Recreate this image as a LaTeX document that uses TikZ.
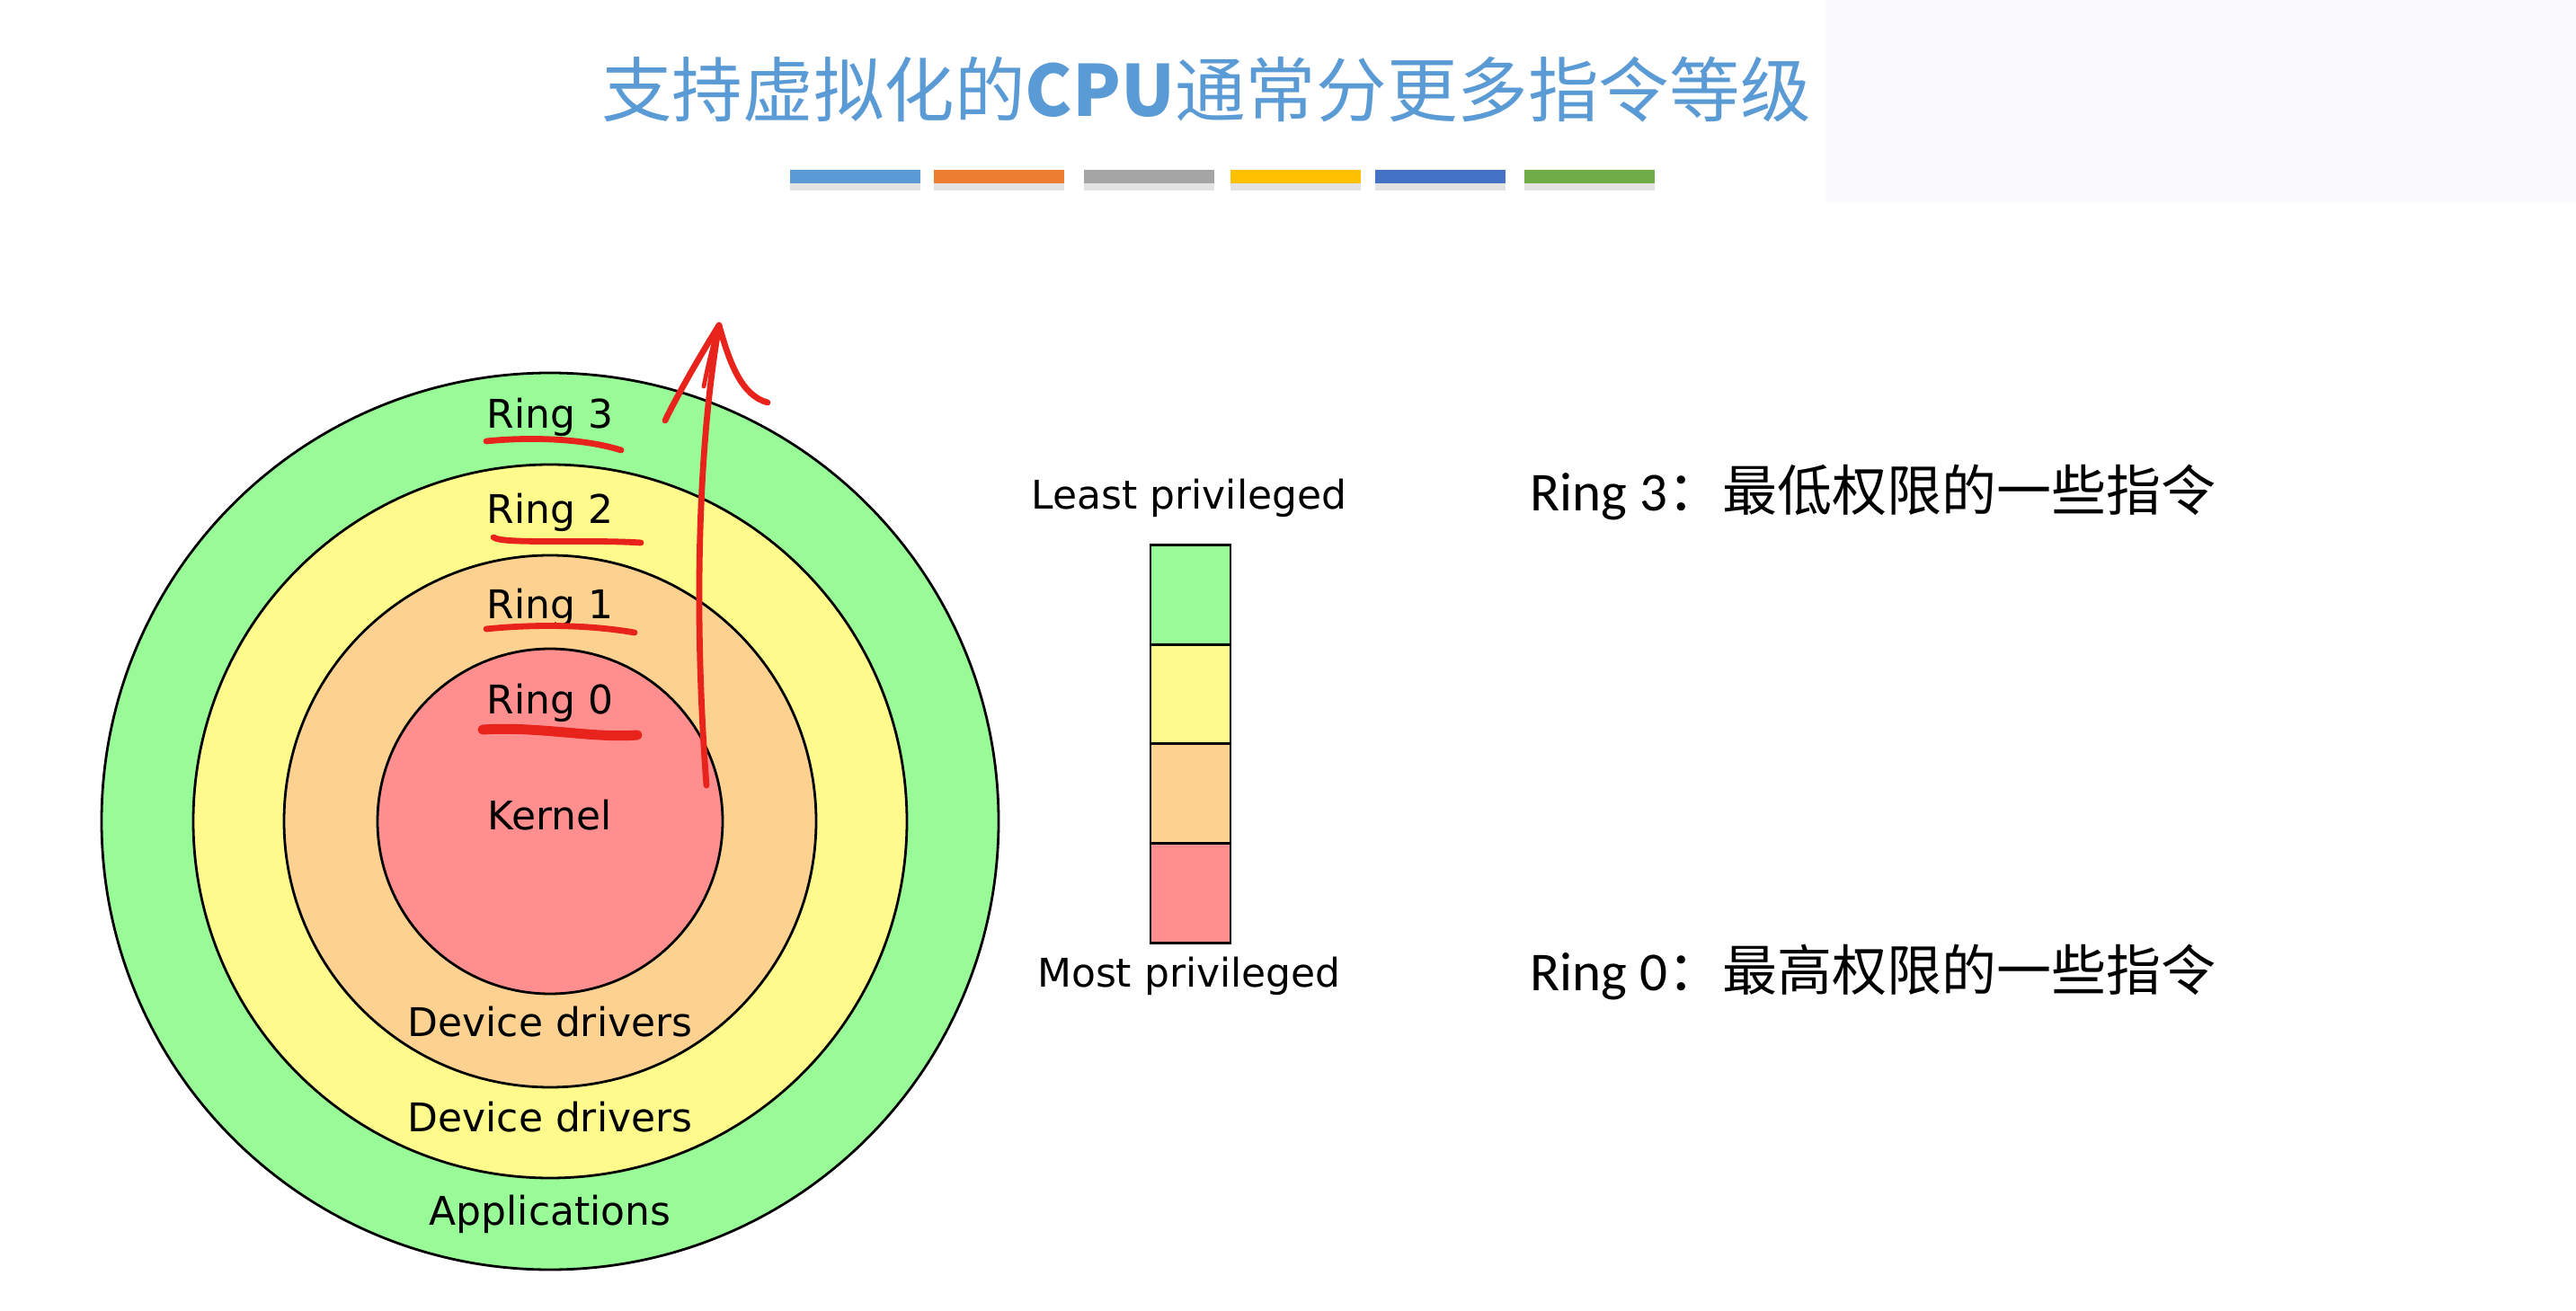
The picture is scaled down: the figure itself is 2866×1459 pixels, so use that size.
\documentclass[tikz,border=0pt]{standalone}
\usepackage{fontspec}
\setmainfont{DejaVu Sans}
\newfontfamily\cjk{Noto Sans CJK SC}
\newfontfamily\calib{Carlito}
\definecolor{rgreen}{HTML}{98FB98}
\definecolor{ryellow}{HTML}{FFFA8C}
\definecolor{rorange}{HTML}{FDD291}
\definecolor{rred}{HTML}{FF8E8E}
\definecolor{titleblue}{HTML}{5B9BD5}
\definecolor{barA}{HTML}{5B9BD5}
\definecolor{barB}{HTML}{ED7D31}
\definecolor{barC}{HTML}{A5A5A5}
\definecolor{barD}{HTML}{FFC000}
\definecolor{barE}{HTML}{4472C4}
\definecolor{barF}{HTML}{70AD47}
\definecolor{pen}{HTML}{E8231B}
\definecolor{wm}{HTML}{FBFBFD}
\tikzset{
  ring/.style={circle, draw=black, line width=1.4pt, inner sep=0pt},
  lab/.style={font=\fontsize{22}{26}\selectfont, text=black, inner sep=0pt},
  leglab/.style={font=\fontsize{22}{26}\selectfont, text=black, inner sep=0pt},
  legbox/.style={rectangle, draw=black, line width=1.4pt, minimum width=44.5pt, minimum height=55.25pt, inner sep=0pt},
  note/.style={font=\fontsize{30.5}{36}\selectfont, text=black, inner sep=0pt, anchor=west},
  penline/.style={draw=pen, line width=3.4pt, line cap=round, line join=round},
  colbar/.style={rectangle, minimum width=72.5pt, minimum height=7.5pt, inner sep=0pt}
}
\begin{document}
\begin{tikzpicture}[x=0.5pt,y=-0.5pt]
\useasboundingbox (0,0) rectangle (2866,1459);
\fill[white] (0,0) rectangle (2866,1459);
\fill[wm] (2030,0) rectangle (2866,225);
% title
\node[inner sep=0pt, text=titleblue, font=\cjk\fontsize{39.3}{46}\selectfont] (title) at (1342,100) {支持虚拟化的{\bfseries CPU}通常分更多指令等级};
% colour bars
\foreach \x/\c [count=\i] in {951/barA,1111/barB,1278/barC,1441/barD,1602/barE,1768/barF}{
  \fill[gray!22] (\x-72,203) rectangle (\x+73,212);
  \node[colbar, fill=\c] (bar\i) at (\x,197) {};
}
% rings
\node[ring, fill=rgreen, minimum size=499pt] (r3) at (612,914) {};
\node[ring, fill=ryellow, minimum size=397pt] (r2) at (612,914) {};
\node[ring, fill=rorange, minimum size=296pt] (r1) at (612,914) {};
\node[ring, fill=rred, minimum size=192pt] (r0) at (612,914) {};
\node[lab] (l3) at (612,464) {Ring 3};
\node[lab] (l2) at (612,570) {Ring 2};
\node[lab] (l1) at (612,676) {Ring 1};
\node[lab] (l0) at (612,782) {Ring 0};
\node[lab] (kern) at (612,907) {Kernel};
\node[lab] (dd1) at (612,1137) {Device drivers};
\node[lab] (dd2) at (612,1243) {Device drivers};
\node[lab] (apps) at (612,1351) {Applications};
% legend
\node[legbox, fill=rgreen] (g3) at (1324.5,662) {};
\node[legbox, fill=ryellow] (g2) at (1324.5,773) {};
\node[legbox, fill=rorange] (g1) at (1324.5,883) {};
\node[legbox, fill=rred] (g0) at (1324.5,994) {};
\node[leglab] (least) at (1323,554) {Least privileged};
\node[leglab] (most) at (1323,1086) {Most privileged};
% notes
\node[note] (n3) at (1702,548) {{\calib Ring 3}{\cjk ：最低权限的一些指令}};
\node[note] (n0) at (1702,1082) {{\calib Ring 0}{\cjk ：最高权限的一些指令}};
% red annotations
\coordinate (u3a) at (541,491); \coordinate (u3b) at (691,501);
\coordinate (u2a) at (549,598); \coordinate (u2b) at (713,604);
\coordinate (u1a) at (541,700); \coordinate (u1b) at (706,704);
\coordinate (u0a) at (537,812); \coordinate (u0b) at (709,818);
\draw[penline] (u3a) .. controls (590,486) and (650,488) .. (u3b);
\draw[penline] (u2a) .. controls (560,606) and (650,600) .. (u2b);
\draw[penline] (u1a) .. controls (600,694) and (660,696) .. (u1b);
\draw[penline, line width=5.5pt] (u0a) .. controls (600,808) and (660,822) .. (u0b);
\coordinate (abot) at (786,874);
\coordinate (atip) at (800,362);
\coordinate (aleft) at (740,468);
\coordinate (aright) at (854,448);
\draw[penline] (abot) .. controls (772,690) and (776,500) .. (atip);
\draw[penline] (aleft) .. controls (746,455) and (770,410) .. (atip);
\draw[penline] (atip) .. controls (812,405) and (825,440) .. (aright);
\draw[penline, line width=2.4pt] (783,430) .. controls (788,405) and (794,380) .. (atip);
\end{tikzpicture}
\end{document}
